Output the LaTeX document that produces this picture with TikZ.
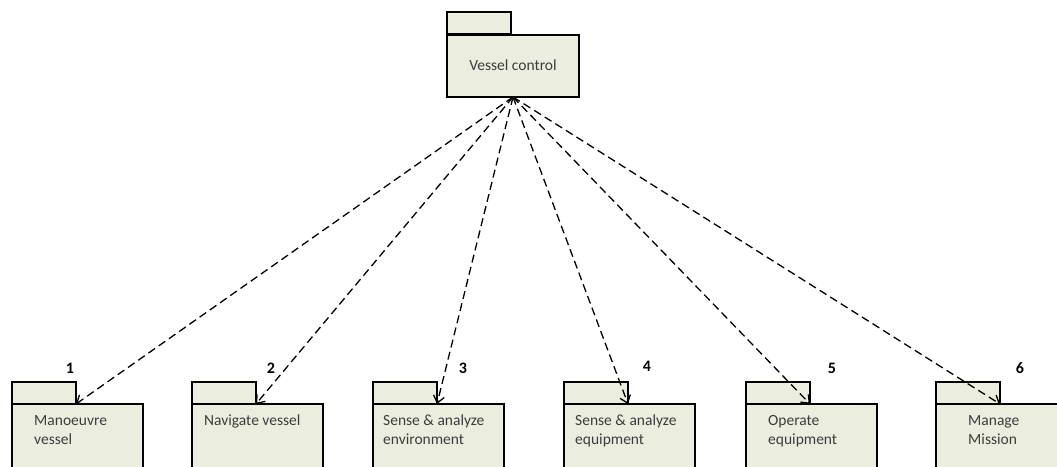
\documentclass[tikz,border=0pt]{standalone}
\usepackage{fontspec}
\setmainfont{Carlito}
\usetikzlibrary{arrows.meta}
\definecolor{pkgfill}{RGB}{235,238,222}
\definecolor{pkgtext}{RGB}{60,60,60}
\begin{document}
\begin{tikzpicture}[x=1pt,y=-1pt,
  pkg/.style={draw=black, line width=1.8pt, fill=pkgfill, inner sep=0pt,
    outer sep=0pt, anchor=north west},
  tabbox/.style={pkg, minimum width=64pt, minimum height=22pt},
  bodybox/.style={pkg, minimum width=131pt, minimum height=90pt},
  lbl/.style={text=pkgtext, font=\fontsize{15.5}{19}\selectfont, anchor=north west,
    inner sep=0pt, align=left},
  num/.style={font=\fontsize{16}{18}\selectfont\bfseries, inner sep=0pt},
  dep/.style={dashed, dash pattern=on 8pt off 4.5pt, line width=1.3pt,
    -{Straight Barb[length=7pt,width=11pt,line width=1.3pt]}}]
\useasboundingbox (0,0) rectangle (1057,466);
\clip (0,0) rectangle (1057,466);

% top package
\node[tabbox] (vct) at (447,12) {};
\node[pkg, minimum width=132pt, minimum height=62pt] (vc) at (447,35) {};
\node[text=pkgtext, font=\fontsize{15.5}{19}\selectfont, inner sep=0pt] (vcl) at (513,65) {Vessel control};

% bottom packages
\foreach \i/\x in {1/12, 2/192, 3/373, 4/564, 5/746, 6/936}{
  \node[tabbox] (t\i) at (\x,382) {};
  \node[bodybox] (b\i) at (\x,404) {};
}

\node[lbl] (l1) at (34,415) {Manoeuvre\\vessel};
\node[lbl] (l2) at (204,415) {Navigate vessel};
\node[lbl] (l3) at (383,415) {Sense \& analyze\\environment};
\node[lbl] (l4) at (575,415) {Sense \& analyze\\equipment};
\node[lbl] (l5) at (768,415) {Operate\\equipment};
\node[lbl] (l6) at (968,415) {Manage\\Mission};

% package numbers
\node[num] (n1) at (70,368) {1};
\node[num] (n2) at (271,368) {2};
\node[num] (n3) at (463,368) {3};
\node[num] (n4) at (647,366) {4};
\node[num] (n5) at (832,368) {5};
\node[num] (n6) at (1020,368) {6};

% dependencies
\foreach \i in {1,...,6}{
  \draw[dep] (vc.south) -- (t\i.south east);
}
\end{tikzpicture}
\end{document}
